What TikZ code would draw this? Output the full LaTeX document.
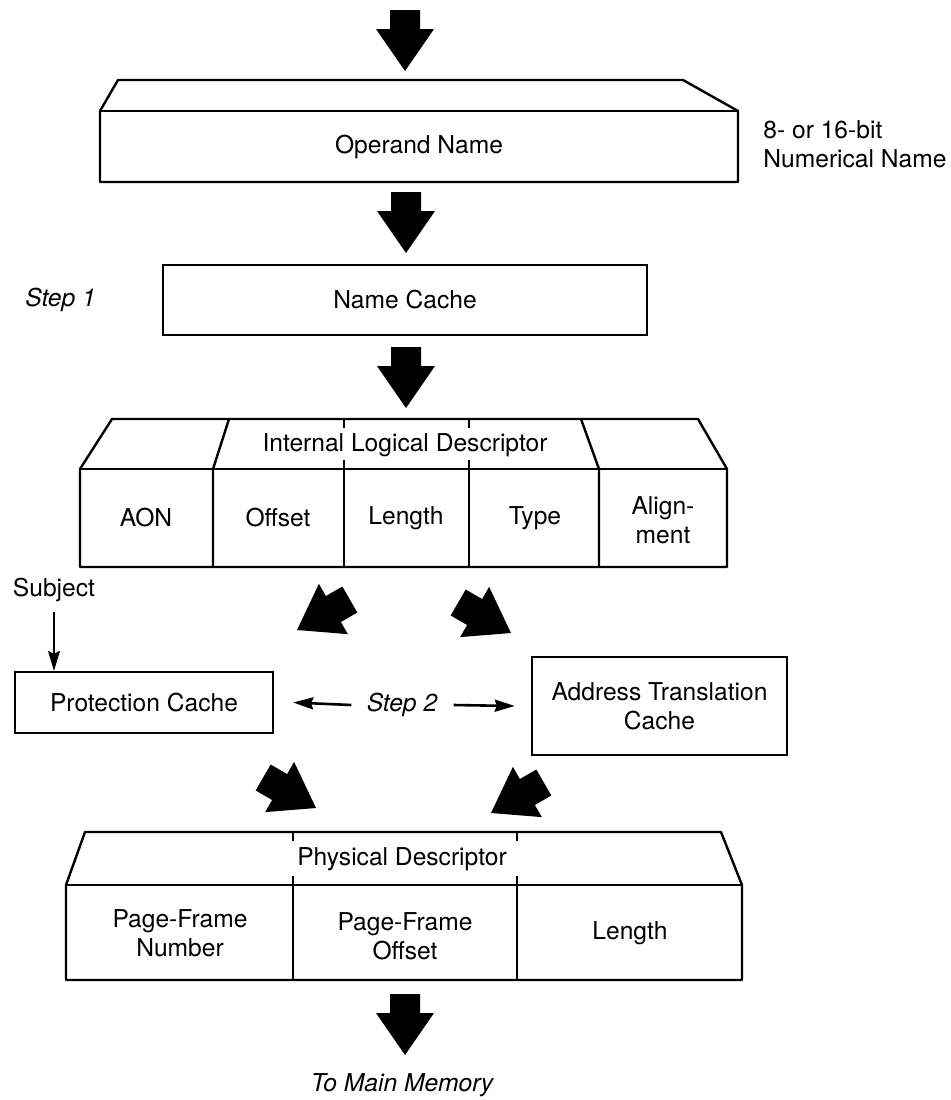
\documentclass[tikz,border=0pt]{standalone}
\usepackage{fontspec}
\setmainfont{TeX Gyre Heros}
\usetikzlibrary{arrows.meta}
\begin{document}
\begin{tikzpicture}[x=0.5pt,y=-0.5pt,
  box/.style={draw, line width=1.2pt, line join=round},
  lbl/.style={font=\fontsize{12.3}{14.5}\selectfont, inner sep=0pt, align=center},
  ital/.style={font=\fontsize{12.3}{14.5}\selectfont\itshape, inner sep=0pt},
  subjarrow/.style={line width=0.9pt, -{Stealth[length=10pt,width=6pt,inset=1.5pt]}},
  steparrow/.style={line width=1.3pt, -{Stealth[length=10pt,width=6pt,inset=1pt]}},
  fatarrow/.pic={\fill (0,0) -- (-42,29) -- (-42,15) -- (-61,15) -- (-61,-15) -- (-42,-15) -- (-42,-29) -- cycle;}
]
\useasboundingbox (0,0) rectangle (951,1100);

% incoming operand
\pic[rotate=270] at (405,71) {fatarrow};

% operand name register, drawn as a slab
\draw[box] (100,111) -- (118,80) -- (683,80) -- (738,111) -- (738,182) -- (100,182) -- cycle;
\draw[box] (100,111) -- (738,111);
\node[lbl] (opname) at (419,147) {Operand Name};
\node[lbl, align=left, anchor=west] (numname) at (763,144) {8- or 16-bit\\Numerical Name};

\pic[rotate=270] at (406,253) {fatarrow};

% step 1: name cache
\node[ital, anchor=west] (step1) at (25,300) {Step 1};
\node[draw, line width=1.2pt, minimum width=242pt, minimum height=35pt, lbl] (ncache) at (405,300) {Name Cache};

\pic[rotate=270] at (406,408) {fatarrow};

% internal logical descriptor
\draw[box] (80,469) -- (112,419) -- (698,419) -- (727,469) -- (727,567) -- (80,567) -- cycle;
\draw[box] (80,469) -- (727,469);
\draw[box] (229,419) -- (213,469) -- (213,567);
\draw[box] (581,419) -- (599,469) -- (599,567);
\foreach \xd in {344,469} {
  \draw[box] (\xd,469) -- (\xd,567);
  \draw[box] (\xd,419) -- (\xd,428);
  \draw[box] (\xd,460) -- (\xd,469);
}
\node[lbl] (ild) at (405,445) {Internal Logical Descriptor};
\node[lbl] (aon) at (146,518) {AON};
\node[lbl] (offset) at (278,518) {Offset};
\node[lbl] (length) at (406,518) {Length};
\node[lbl] (type) at (535,518) {Type};
\node[lbl] (align) at (663,520) {Align-\\ment};

% step 2: protection and address translation caches
\pic[rotate=210] at (297,630) {fatarrow};
\pic[rotate=-30] at (511,633) {fatarrow};

\node[lbl] (subject) at (54,590) {Subject};
\node[draw, line width=1.2pt, minimum width=129pt, minimum height=30.5pt, lbl] (pcache) at (144,702.5) {Protection Cache};
\node[draw, line width=1.2pt, minimum width=127.5pt, minimum height=49pt, lbl] (atc) at (659.5,706) {Address Translation\\Cache};
\node[ital] (step2) at (402,705) {Step 2};
\draw[subjarrow] (subject.south) ++(0,-5pt) -- (subject.south |- pcache.north);
\draw[steparrow] ([xshift=-7.5pt]step2.west) -- ([xshift=9.5pt]pcache.east);
\draw[steparrow] ([xshift=8pt]step2.east) -- ([xshift=-8pt]atc.west);

\pic[rotate=-30] at (316,808) {fatarrow};
\pic[rotate=210] at (491,813) {fatarrow};

% physical descriptor
\draw[box] (66,885) -- (85,832) -- (721,832) -- (742,885) -- (742,980) -- (66,980) -- cycle;
\draw[box] (66,885) -- (742,885);
\foreach \xd in {293,517} {
  \draw[box] (\xd,885) -- (\xd,980);
  \draw[box] (\xd,832) -- (\xd,841);
  \draw[box] (\xd,876) -- (\xd,885);
}
\node[lbl] (pd) at (402,859) {Physical Descriptor};
\node[lbl] (pfn) at (180,933) {Page-Frame\\Number};
\node[lbl] (pfo) at (405,936) {Page-Frame\\Offset};
\node[lbl] (plen) at (630,933) {Length};

\pic[rotate=270] at (405,1055) {fatarrow};
\node[ital] (mainmem) at (402,1085) {To Main Memory};
\end{tikzpicture}
\end{document}
